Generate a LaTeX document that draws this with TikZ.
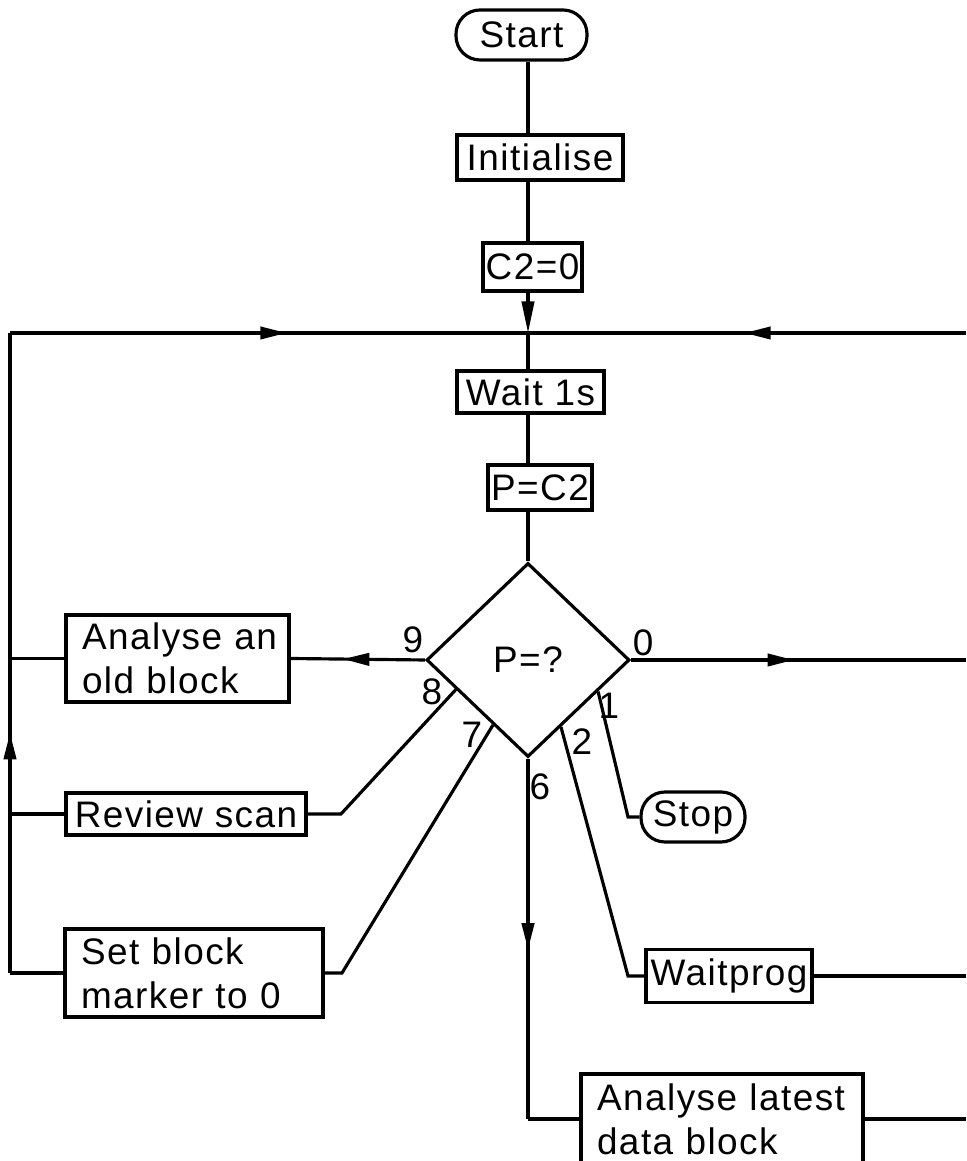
\documentclass[tikz,border=0pt]{standalone}
\usepackage{fontspec}
\setmainfont{Liberation Sans}[LetterSpace=4]
\usetikzlibrary{shapes.geometric,arrows.meta,decorations.markings,calc}
\newcommand{\flowfont}{\fontsize{21}{25}\selectfont}
\tikzset{
	flowbox/.style={draw,rectangle,inner sep=0pt,font=\flowfont},
	termbox/.style={flowbox,rounded corners=0.48cm},
	twoline/.style={flowbox,align=left,text width=#1},
	flowtip/.style={postaction={decorate,decoration={markings,mark=at position #1 with {\arrow{Triangle[length=15pt,width=7pt]}}}}},
	brnum/.style={font=\flowfont,inner sep=0pt},
}
\begin{document}
\begin{tikzpicture}[line width=1.8pt]
	\useasboundingbox (0,0) rectangle (19.32,23.22);
	\clip (0,0) rectangle (19.32,23.22);
	\node[termbox,minimum width=2.62cm,minimum height=1.0cm] (start) at (10.43,22.52) {Start};
	\node[flowbox,minimum width=3.32cm,minimum height=0.9cm] (init) at (10.80,20.07) {Initialise};
	\node[flowbox,minimum width=1.98cm,minimum height=0.96cm] (czero) at (10.65,17.88) {C2=0};
	\node[flowbox,minimum width=2.94cm,minimum height=0.84cm] (wait) at (10.61,15.38) {Wait 1s};
	\node[flowbox,minimum width=2.08cm,minimum height=0.9cm] (pset) at (10.80,13.47) {P=C2};
	\node[flowbox,shape=diamond,minimum width=4.06cm,minimum height=3.88cm] (pq) at (10.56,10.02) {P=?};
	\node[twoline=3.82cm,minimum width=4.46cm,minimum height=1.74cm] (old) at (3.55,10.05) {Analyse~an\\old~block};
	\node[flowbox,minimum width=4.8cm,minimum height=0.84cm] (review) at (3.72,6.94) {Review scan};
	\node[twoline=4.52cm,minimum width=5.16cm,minimum height=1.76cm] (setblk) at (3.88,3.76) {Set~block\\marker~to~0};
	\node[termbox,minimum width=2.08cm,minimum height=1.0cm] (stop) at (13.86,6.88) {Stop};
	\node[flowbox,minimum width=3.32cm,minimum height=1.06cm] (waitprog) at (14.58,3.70) {Waitprog};
	\node[twoline=5.0cm,minimum width=5.64cm,minimum height=1.8cm] (latest) at (14.44,0.84) {Analyse~latest\\data~block};

	\coordinate (spine) at (10.56,0);
	\coordinate (join) at (10.56,16.56);
	\coordinate (ltop) at (0.2,16.56);
	\coordinate (lbot) at (0.2,3.76);
	\coordinate (rtop) at (19.32,16.56);
	\coordinate (p8) at ($(pq.west)!0.3!(pq.south)$);
	\coordinate (p7) at ($(pq.west)!0.66!(pq.south)$);
	\coordinate (p2) at ($(pq.east)!0.68!(pq.south)$);
	\coordinate (p1) at ($(pq.east)!0.32!(pq.south)$);
	\coordinate (k8) at (6.82,6.94);
	\coordinate (k7) at (6.84,3.76);
	\coordinate (k2) at (12.56,3.70);
	\coordinate (k1) at (12.56,6.88);
	\coordinate (k6) at (10.56,0.84);

	\draw (start.south -| spine) -- (init.north -| spine);
	\draw (init.south -| spine) -- (czero.north -| spine);
	\draw[-{Triangle[length=18pt,width=7pt]}] (czero.south -| spine) -- (join);
	\draw (join) -- (wait.north -| spine);
	\draw (wait.south -| spine) -- (pset.north -| spine);
	\draw (pset.south -| spine) -- (pq.north);

	\draw[flowtip=0.506] (rtop) -- (join);
	\draw[flowtip=0.534] (ltop) -- (join);
	\draw[flowtip=0.375] (lbot) -- (ltop);
	\draw (old.west) -- (old.west -| ltop);
	\draw (review.west) -- (review.west -| ltop);
	\draw (setblk.west) -- (lbot);

	\draw[flowtip=0.61] (pq.west) -- (old.east);
	\draw (p8) -- (k8) -- (review.east);
	\draw (p7) -- (k7) -- (setblk.east);
	\draw[flowtip=0.53] (pq.south) -- (k6);
	\draw (k6) -- (latest.west);
	\draw (p2) -- (k2) -- (waitprog.west);
	\draw (p1) -- (k1) -- (stop.west);
	\draw[flowtip=0.486] (pq.east) -- (pq.east -| rtop);
	\draw (waitprog.east) -- (waitprog.east -| rtop);
	\draw (latest.east) -- (latest.east -| rtop);

	\node[brnum] (n9) at (8.26,10.42) {9};
	\node[brnum] (n8) at (8.64,9.38) {8};
	\node[brnum] (n7) at (9.44,8.52) {7};
	\node[brnum] (n6) at (10.80,7.48) {6};
	\node[brnum] (n2) at (11.64,8.38) {2};
	\node[brnum] (n1) at (12.18,9.10) {1};
	\node[brnum] (n0) at (12.86,10.36) {0};
\end{tikzpicture}
\end{document}
